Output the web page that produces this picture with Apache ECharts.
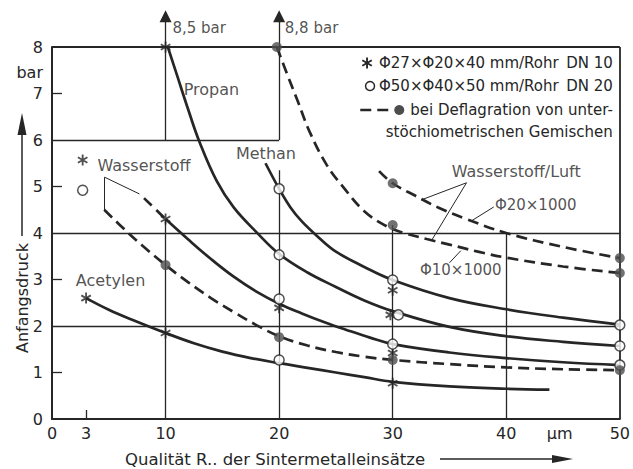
<!DOCTYPE html>
<html>
<head>
<meta charset="utf-8">
<script src="https://cdn.jsdelivr.net/npm/echarts@6.0.0/dist/echarts.min.js"></script>
<style>
  html, body { margin: 0; padding: 0; background: #fff; }
  #chart { width: 633px; height: 469px; }
</style>
</head>
<body>
<div id="chart"></div>
<script>
// ---- axis ticks ----
const xTickValues = [0, 3, 10, 20, 30, 40, 50];
const xInnerTicks = [3];
const yInnerTicks = [1, 3, 5, 7];

// ---- solid curves (bar over R in µm) ----
const propan = [[10.2, 8.0], [11, 7.4], [12, 6.65], [13, 5.95], [14.5, 5.12], [16, 4.55], [18, 4.02], [20, 3.55], [22.5, 3.15], [25, 2.84], [27.5, 2.55], [30, 2.32], [35, 1.98], [40, 1.78], [45, 1.66], [50, 1.57]];
const methan = [[18.8, 5.5], [20, 4.95], [21, 4.55], [22, 4.25], [23.5, 3.9], [25, 3.6], [27.5, 3.27], [30, 2.99], [35, 2.6], [40, 2.36], [45, 2.18], [50, 2.03]];
const wasserstoffStart = [[8.1, 4.75], [10, 4.3]];
const wasserstoff = [[10, 4.3], [12, 3.86], [14, 3.44], [16, 3.06], [18, 2.74], [20, 2.48], [22, 2.27], [24, 2.08], [26, 1.91], [28, 1.75], [30, 1.61], [35, 1.43], [40, 1.31], [45, 1.22], [50, 1.16]];
const acetylen = [[3, 2.6], [5, 2.35], [7, 2.14], [10, 1.85], [12.5, 1.63], [15, 1.45], [17.5, 1.31], [20, 1.2], [22.5, 1.1], [25, 1.0], [27.5, 0.9], [30, 0.8], [35, 0.7], [40, 0.65], [43.8, 0.63]];

// ---- dashed curves: deflagration of sub-stoichiometric mixtures ----
const wasserstoffDefl = [[4.6, 4.5], [6.5, 4.05], [8, 3.72], [10, 3.31], [12, 2.94], [14, 2.6], [16, 2.3], [18, 2.02], [20, 1.78], [22.5, 1.58], [25, 1.44], [27.5, 1.34], [30, 1.27], [35, 1.18], [40, 1.11], [45, 1.07], [50, 1.05]];
const luftPhi20 = [[28.8, 5.33], [30, 5.07], [32, 4.8], [34, 4.55], [36.5, 4.3], [40, 4.0], [45, 3.7], [50, 3.46]];
const luftPhi10 = [[19.8, 8.0], [20.7, 7.42], [21.6, 6.86], [22.7, 6.17], [24.2, 5.46], [25.7, 4.97], [27.5, 4.47], [29.5, 4.14], [31, 4.0], [33, 3.87], [35, 3.75], [37.5, 3.6], [40, 3.47], [45, 3.28], [50, 3.14]];

// ---- measured points ----
const starPoints = [[10, 8.0], [2.7, 5.57], [10, 4.3], [3, 2.6], [10, 1.85], [20, 2.39], [30, 2.77], [29.8, 2.24], [30, 1.42], [30, 0.77]];
const circlePoints = [[2.7, 4.92], [20, 4.95], [20, 3.53], [20, 2.58], [20, 1.27], [30, 2.99], [30.5, 2.24], [30, 1.61], [50, 2.02], [50, 1.57], [50, 1.16]];
const dotPoints = [[19.8, 8.0], [10, 3.31], [20, 1.76], [30, 1.27], [50, 1.05], [30, 5.07], [30, 4.17], [50, 3.46], [50, 3.14]];

// ---- texts ----
const curveNames = ['Propan', 'Methan', 'Wasserstoff', 'Acetylen', 'Wasserstoff/Luft'];
const sizeNames = ['Φ20×1000', 'Φ10×1000', '8,5 bar', '8,8 bar'];
const legendTexts = ['Φ27×Φ20×40 mm/Rohr\u2002DN 10', 'Φ50×Φ40×50 mm/Rohr\u2002DN 20', 'bei Deflagration von unter-', 'stöchiometrischen Gemischen'];
const yTitle = 'Anfangsdruck';
const xTitle = 'Qualität R.. der Sintermetalleinsätze';
const yUnit = 'bar';
const xUnit = 'µm';

// ---- layout: anchors of the names, grid lines, leader lines ----
const curveNameAnchors = [[11.6, 7.08], [16.2, 5.72], [4.0, 5.46], [2.1, 2.97], [35.2, 5.33]];
const sizeNameAnchors = [[39.0, 4.6], [32.4, 3.2], [10.6, 8.41], [20.5, 8.41]];
const gridSegments = [
  [[0, 2], [50, 2]], [[0, 4], [50, 4]], [[0, 6], [20, 6]],
  [[10, 0], [10, 4.3]], [[20, 0], [20, 5.35]], [[30, 0], [30, 4.17]], [[40, 0], [40, 4]]
];
const frameSegments = [[[0, 8], [50, 8]], [[50, 0], [50, 8]]];
const arrowSegments = [[[10, 6], [10, 8.66]], [[20, 6], [20, 8.66]]];
const leaderSegments = [
  [[4.63, 5.2], [7.7, 4.84]], [[4.63, 5.2], [4.63, 4.49]],
  [[36.5, 5.08], [32.5, 4.71]], [[36.5, 5.08], [33.4, 3.83]],
  [[38.9, 4.56], [36.8, 4.24]],
  [[35.0, 3.36], [36.0, 3.62]]
];

const INK = '#262626';
const DOT = '#4d4d4d';
const FONT_FAMILY = '"DejaVu Sans", "Noto Sans", sans-serif';
const STAR = 'path://M-0.17,-1L0.17,-1L0.17,1L-0.17,1Z' +
  'M-0.951,-0.353L-0.781,-0.647L0.951,0.353L0.781,0.647Z' +
  'M0.781,-0.647L0.951,-0.353L-0.781,0.647L-0.951,0.353Z';

const chart = echarts.init(document.getElementById('chart'), null, { renderer: 'svg' });

function segs(list) {
  return list.map(c => ({ coords: c }));
}

function curve(name, data, dashed) {
  return {
    name, type: 'line', data, smooth: 0.4,
    showSymbol: false, symbol: 'none', clip: false, silent: true, z: 3,
    lineStyle: { color: INK, width: 2.7, type: dashed ? [11, 6] : 'solid', cap: 'butt' }
  };
}

function nameLabels(name, anchors, texts, size) {
  return {
    name, type: 'scatter', symbolSize: 0, clip: false, silent: true, z: 7,
    data: anchors.map((p, i) => ({ value: p, name: texts[i] })),
    label: { show: true, position: 'right', distance: 0, formatter: '{b}',
      color: INK, fontSize: size, fontFamily: FONT_FAMILY }
  };
}

chart.setOption({
  animation: false,
  backgroundColor: '#fff',
  grid: { left: 52, right: 10, top: 47, bottom: 50 },
  xAxis: {
    type: 'value', min: 0, max: 50,
    axisLine: { lineStyle: { color: INK, width: 2 } },
    axisTick: { show: true, inside: true, length: 9, customValues: xInnerTicks, lineStyle: { color: INK, width: 1.3 } },
    axisLabel: { customValues: xTickValues, color: INK, fontSize: 16, fontFamily: FONT_FAMILY, margin: 6 },
    splitLine: { show: false }
  },
  yAxis: {
    type: 'value', min: 0, max: 8, interval: 1,
    axisLine: { show: true, lineStyle: { color: INK, width: 2 } },
    axisTick: { show: true, inside: true, length: 10, customValues: yInnerTicks, lineStyle: { color: INK, width: 1.3 } },
    axisLabel: { color: INK, fontSize: 16, fontFamily: FONT_FAMILY, margin: 9 },
    splitLine: { show: false }
  },
  series: [
    { type: 'lines', coordinateSystem: 'cartesian2d', silent: true, clip: false, z: 1,
      lineStyle: { color: INK, width: 1.3, opacity: 1 }, data: segs(gridSegments) },
    { type: 'lines', coordinateSystem: 'cartesian2d', silent: true, clip: false, z: 1,
      lineStyle: { color: INK, width: 1.8, opacity: 1 }, data: segs(frameSegments) },
    { type: 'lines', coordinateSystem: 'cartesian2d', silent: true, clip: false, z: 1,
      symbol: ['none', 'triangle'], symbolSize: [7, 12],
      lineStyle: { color: INK, width: 1.3, opacity: 1 }, data: segs(arrowSegments) },
    { type: 'lines', coordinateSystem: 'cartesian2d', silent: true, clip: false, z: 1,
      lineStyle: { color: INK, width: 1, opacity: 1 }, data: segs(leaderSegments) },

    curve('Propan', propan, false),
    curve('Methan', methan, false),
    curve('Wasserstoff (Beginn)', wasserstoffStart, true),
    curve('Wasserstoff', wasserstoff, false),
    curve('Acetylen', acetylen, false),
    curve('Wasserstoff, Deflagration', wasserstoffDefl, true),
    curve('Wasserstoff/Luft Φ20', luftPhi20, true),
    curve('Wasserstoff/Luft Φ10', luftPhi10, true),

    { name: 'DN 10', type: 'scatter', data: starPoints, symbol: STAR, symbolSize: 11, symbolKeepAspect: true,
      clip: false, silent: true, z: 5, itemStyle: { color: INK } },
    { name: 'DN 20', type: 'scatter', data: circlePoints, symbol: 'circle', symbolSize: 10,
      clip: false, silent: true, z: 6, itemStyle: { color: '#fff', borderColor: INK, borderWidth: 1.5 } },
    { name: 'Deflagration', type: 'scatter', data: dotPoints, symbol: 'circle', symbolSize: 10,
      clip: false, silent: true, z: 6, itemStyle: { color: DOT } },

    nameLabels('Gase', curveNameAnchors, curveNames, 16),
    nameLabels('Abmessungen', sizeNameAnchors, sizeNames, 15)
  ]
});

// ---- titles, units and legend, positioned from the grid ----
const px = (x, y) => chart.convertToPixel({ gridIndex: 0 }, [x, y]);
const origin = px(0, 0);
const top8 = px(0, 8);
const right = px(50, 0);
const unitPos = px(44.7, 0);

const measure = document.createElement('canvas').getContext('2d');
measure.font = '15px "DejaVu Sans"';

// six-armed asterisk as three thin bars
function starBars(cx, cy, r) {
  const w = 0.17 * r;
  return [90, 30, 150].map(deg => {
    const a = deg * Math.PI / 180;
    const dx = Math.cos(a) * r, dy = Math.sin(a) * r;
    const nx = -Math.sin(a) * w, ny = Math.cos(a) * w;
    return { type: 'polygon', silent: true,
      shape: { points: [[cx + dx + nx, cy + dy + ny], [cx + dx - nx, cy + dy - ny], [cx - dx - nx, cy - dy - ny], [cx - dx + nx, cy - dy + ny]] },
      style: { fill: INK } };
  });
}

const legendRight = right[0] - 7;
const legendRows = [top8[1] + 16, top8[1] + 39, top8[1] + 63, top8[1] + 85];
const graphics = [];

legendTexts.forEach((t, i) => {
  graphics.push({ type: 'text', x: legendRight, y: legendRows[i], silent: true,
    style: { text: t, align: 'right', verticalAlign: 'middle', fill: INK, font: '15px ' + FONT_FAMILY } });
});
const l0 = legendRight - measure.measureText(legendTexts[0]).width;
const l1 = legendRight - measure.measureText(legendTexts[1]).width;
const l2 = legendRight - measure.measureText(legendTexts[2]).width;
graphics.push(...starBars(l0 - 12, legendRows[0], 5.5));
graphics.push(
  { type: 'circle', silent: true, shape: { cx: l1 - 9, cy: legendRows[1], r: 4.5 },
    style: { fill: '#fff', stroke: INK, lineWidth: 1.5 } },
  { type: 'line', silent: true, shape: { x1: l2 - 50, y1: legendRows[2], x2: l2 - 16, y2: legendRows[2] },
    style: { stroke: INK, lineWidth: 2.7, lineDash: [11, 6] } },
  { type: 'circle', silent: true, shape: { cx: l2 - 11, cy: legendRows[2], r: 5 }, style: { fill: DOT } }
);

// y unit under the top tick
graphics.push({ type: 'text', x: origin[0] - 9, y: top8[1] + 25, silent: true,
  style: { text: yUnit, align: 'right', verticalAlign: 'middle', fill: INK, font: '16px ' + FONT_FAMILY } });
// x unit between 40 and 50
graphics.push({ type: 'text', x: unitPos[0], y: origin[1] + 14, silent: true,
  style: { text: xUnit, align: 'center', verticalAlign: 'middle', fill: INK, font: '16px ' + FONT_FAMILY } });

// y title with upward arrow
const yTitleX = 22, yTitleMid = origin[1] - 121;
graphics.push(
  { type: 'text', x: yTitleX, y: yTitleMid, rotation: Math.PI / 2, silent: true,
    style: { text: yTitle, align: 'center', verticalAlign: 'middle', fill: INK, font: '16px ' + FONT_FAMILY } },
  { type: 'line', silent: true, shape: { x1: yTitleX, y1: yTitleMid - 62, x2: yTitleX, y2: yTitleMid - 164 },
    style: { stroke: INK, lineWidth: 1.5 } },
  { type: 'polygon', silent: true, shape: { points: [[yTitleX, yTitleMid - 185], [yTitleX - 4.5, yTitleMid - 163], [yTitleX + 4.5, yTitleMid - 163]] },
    style: { fill: INK } }
);

// x title with arrow to the right
const xTitleY = origin[1] + 40;
graphics.push(
  { type: 'text', x: 125, y: xTitleY, silent: true,
    style: { text: xTitle, align: 'left', verticalAlign: 'middle', fill: INK, font: '16.5px ' + FONT_FAMILY } },
  { type: 'line', silent: true, shape: { x1: 440, y1: xTitleY, x2: 556, y2: xTitleY },
    style: { stroke: INK, lineWidth: 1.5 } },
  { type: 'polygon', silent: true, shape: { points: [[573, xTitleY], [552, xTitleY - 4], [552, xTitleY + 4]] },
    style: { fill: INK } }
);

chart.setOption({ graphic: graphics });
</script>
</body>
</html>
